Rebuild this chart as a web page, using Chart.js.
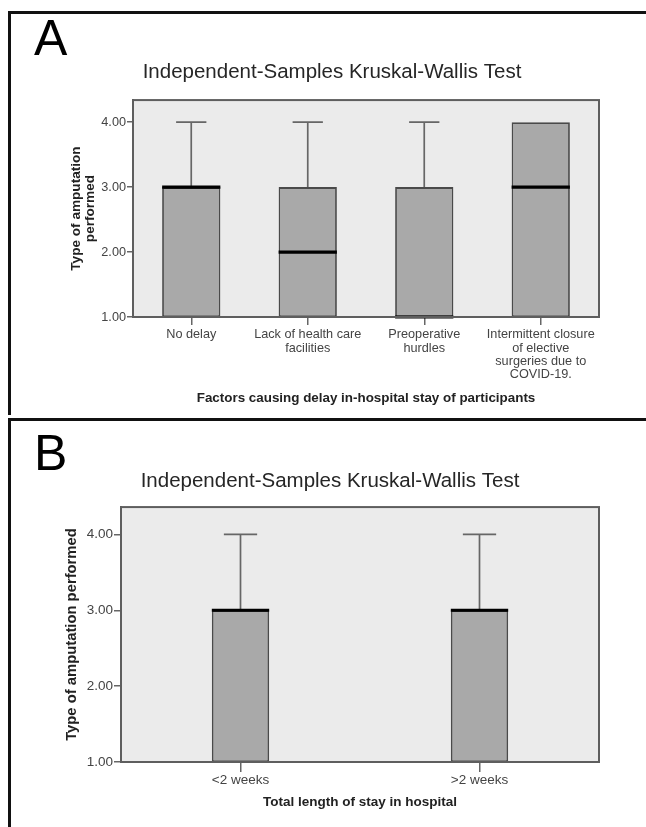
<!DOCTYPE html>
<html>
<head>
<meta charset="utf-8">
<title>Kruskal-Wallis box plots</title>
<script src="https://cdn.jsdelivr.net/npm/chart.js@4.4.1/dist/chart.umd.min.js"></script>
<style>
  body { margin: 0; width: 646px; height: 827px; position: relative; overflow: hidden; background: #fff;
         font-family: "Liberation Sans", Arial, sans-serif; }
  .rule { position: absolute; background: #111; }
  .letter { position: absolute; font-size: 50px; line-height: 1; color: #000; }
  canvas { position: absolute; left: 0; }
</style>
</head>
<body>
<div class="rule" style="left:8px; top:11px; width:638px; height:3px;"></div>
<div class="rule" style="left:8px; top:11px; width:3px; height:404px;"></div>
<div class="rule" style="left:8px; top:418px; width:638px; height:3px;"></div>
<div class="rule" style="left:8px; top:418px; width:3px; height:409px;"></div>
<div class="letter" style="left:34px; top:13px;">A</div>
<div class="letter" style="left:34px; top:428px;">B</div>

<canvas id="chartA" width="646" height="415" style="top:0;"></canvas>
<canvas id="chartB" width="646" height="407" style="top:420px;"></canvas>

<script>
/* Panel A data: factors causing delay */
const delayCategories = [['No delay'], ['Lack of health care', 'facilities'], ['Preoperative', 'hurdles'],
                         ['Intermittent closure', 'of elective', 'surgeries due to', 'COVID-19.']];
const delayMin    = [1, 1, 1, 1];
const delayQ1     = [1, 1, 1, 1];
const delayMedian = [3, 2, 1, 3];
const delayQ3     = [3, 3, 3, 4];
const delayMax    = [4, 4, 4, 4];

/* Panel B data: total length of stay */
const stayCategories = ['<2 weeks', '>2 weeks'];
const stayMin    = [1, 1];
const stayQ1     = [1, 1];
const stayMedian = [3, 3];
const stayQ3     = [3, 3];
const stayMax    = [4, 4];

const yTicks = [1, 2, 3, 4];

const titleText = 'Independent-Samples Kruskal-Wallis Test';
const FONT = '"Liberation Sans", Arial, sans-serif';

/* boxplot plugin: plot background, whiskers, medians and frame */
const boxPlugin = {
  id: 'boxplot',
  beforeDraw(chart) {
    const {ctx, chartArea: a} = chart;
    ctx.save();
    ctx.fillStyle = '#ebebeb';
    ctx.fillRect(a.left, a.top, a.right - a.left, a.bottom - a.top);
    ctx.restore();
  },
  afterDatasetsDraw(chart) {
    const {ctx, chartArea: a} = chart;
    const y = chart.scales.y;
    const ds = chart.data.datasets[0];
    const meta = chart.getDatasetMeta(0);
    ctx.save();
    meta.data.forEach(function(bar, i) {
      const x = bar.x, w = bar.width;
      const cap = w * ds.capRatio / 2;
      ctx.strokeStyle = '#666';
      ctx.lineWidth = 1.7;
      ctx.beginPath();
      if (ds.maxs[i] > ds.data[i][1]) {
        ctx.moveTo(x, y.getPixelForValue(ds.data[i][1]));
        ctx.lineTo(x, y.getPixelForValue(ds.maxs[i]));
        ctx.moveTo(x - cap, y.getPixelForValue(ds.maxs[i]));
        ctx.lineTo(x + cap, y.getPixelForValue(ds.maxs[i]));
      }
      if (ds.mins[i] < ds.data[i][0]) {
        ctx.moveTo(x, y.getPixelForValue(ds.data[i][0]));
        ctx.lineTo(x, y.getPixelForValue(ds.mins[i]));
        ctx.moveTo(x - cap, y.getPixelForValue(ds.mins[i]));
        ctx.lineTo(x + cap, y.getPixelForValue(ds.mins[i]));
      }
      ctx.stroke();
      // median
      const ym = y.getPixelForValue(ds.medians[i]);
      ctx.strokeStyle = '#000';
      ctx.lineWidth = 3.2;
      ctx.beginPath();
      ctx.moveTo(x - w / 2, ym);
      ctx.lineTo(x + w / 2, ym);
      ctx.stroke();
    });
    ctx.strokeStyle = '#5e5e5e';
    ctx.lineWidth = 2;
    ctx.strokeRect(a.left, a.top, a.right - a.left, a.bottom - a.top);
    ctx.restore();
  }
};

function makeBoxChart(id, cfg) {
  return new Chart(document.getElementById(id), {
    type: 'bar',
    data: {
      labels: cfg.labels,
      datasets: [{
        data: cfg.q1.map((v, i) => [v, cfg.q3[i]]),
        medians: cfg.median,
        mins: cfg.min,
        maxs: cfg.max,
        capRatio: cfg.capRatio,
        backgroundColor: '#a9a9a9',
        borderColor: '#4a4a4a',
        borderWidth: 1.8,
        borderSkipped: false,
        barPercentage: cfg.barPct,
        categoryPercentage: 1
      }]
    },
    options: {
      responsive: false,
      animation: false,
      layout: { padding: cfg.padding },
      plugins: {
        legend: { display: false },
        tooltip: { enabled: false },
        title: {
          display: true,
          text: titleText,
          color: '#262626',
          font: { family: FONT, size: 20.5, weight: 'normal', lineHeight: 1.15 },
          padding: cfg.titlePad
        }
      },
      scales: {
        x: {
          offset: true,
          grid: { offset: false, drawOnChartArea: false, tickLength: cfg.xTick, color: '#666', lineWidth: 1.5 },
          border: { display: true, color: '#5e5e5e', width: 2 },
          ticks: { color: '#444', font: { family: FONT, size: cfg.tickSize, lineHeight: 1.05 },
                   padding: cfg.xTickPad, maxRotation: 0, autoSkip: false },
          title: { display: true, text: cfg.xTitle, color: '#222',
                   font: { family: FONT, size: cfg.xTitleSize, weight: 'bold' },
                   padding: { top: 0, bottom: cfg.xTitlePad } },
          afterFit: s => { s.height = cfg.xHeight; }
        },
        y: {
          min: 1,
          max: cfg.yMax,
          afterBuildTicks: s => { s.ticks = yTicks.map(v => ({ value: v })); },
          grid: { drawOnChartArea: false, tickLength: cfg.yTick, color: '#666', lineWidth: 1.5 },
          border: { display: true, color: '#5e5e5e', width: 2 },
          ticks: { color: '#444', font: { family: FONT, size: cfg.tickSize }, padding: 1,
                   callback: v => v.toFixed(2) },
          title: { display: true, text: cfg.yTitle, color: '#222',
                   font: { family: FONT, size: cfg.yTitleSize, weight: 'bold', lineHeight: 1.02 },
                   padding: { top: cfg.yTitlePad, bottom: 0 } },
          afterFit: s => { s.width = cfg.yWidth; }
        }
      }
    },
    plugins: [boxPlugin]
  });
}

makeBoxChart('chartA', {
  labels: delayCategories,
  min: delayMin, q1: delayQ1, median: delayMedian, q3: delayQ3, max: delayMax,
  capRatio: 0.52, barPct: 0.5,
  padding: { left: 65, right: 47, top: 0, bottom: 0 },
  titlePad: { top: 61, bottom: 15.5 },
  tickSize: 12.7, xTitleSize: 13.4, yTitleSize: 13.6,
  xTick: 8, xTickPad: 3, xTitlePad: 9, xHeight: 98,
  xTitle: 'Factors causing delay in-hospital stay of participants',
  yMax: 4.34, yTick: 6, yTitlePad: 4, yWidth: 68,
  yTitle: ['Type of amputation', 'performed']
});

makeBoxChart('chartB', {
  labels: stayCategories,
  min: stayMin, q1: stayQ1, median: stayMedian, q3: stayQ3, max: stayMax,
  capRatio: 0.58, barPct: 0.24,
  padding: { left: 61, right: 47, top: 0, bottom: 0 },
  titlePad: { top: 49.5, bottom: 14 },
  tickSize: 13.5, xTitleSize: 13.5, yTitleSize: 14.8,
  xTick: 10, xTickPad: 1, xTitlePad: 17, xHeight: 65,
  xTitle: 'Total length of stay in hospital',
  yMax: 4.36, yTick: 7, yTitlePad: 3, yWidth: 60,
  yTitle: 'Type of amputation performed'
});
</script>
</body>
</html>
